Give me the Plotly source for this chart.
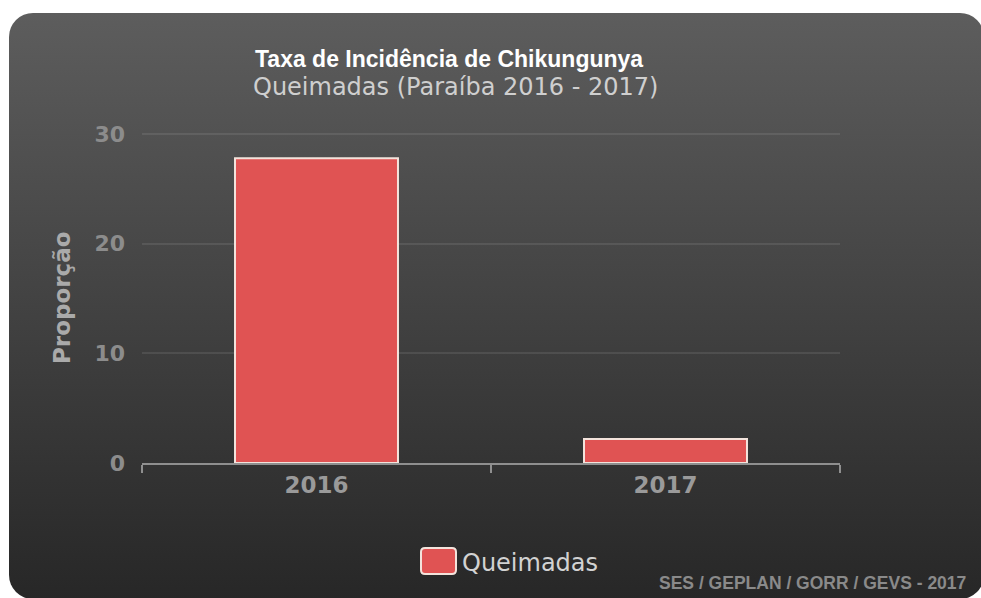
import base64
import plotly.graph_objects as go

# ---- data ----
categories = ["2016", "2017"]
values = [27.8, 2.2]
series_name = "Queimadas"
y_ticks = [0, 10, 20, 30]

title_text = "Taxa de Incidência de Chikungunya"
subtitle_text = "Queimadas (Paraíba 2016 - 2017)"
yaxis_title = "Proporção"
credit_text = "SES / GEPLAN / GORR / GEVS - 2017"

# ---- layout geometry (pixels) ----
W, H = 981, 598
L, R, T, B = 142, W - 840, 133, H - 463
PW, PH = W - L - R, H - T - B


def px(x):
    return (x - L) / PW


def py(y):
    return (H - B - y) / PH


# background: rounded rect with vertical gradient (SVG data uri)
svg = f"""<svg xmlns='http://www.w3.org/2000/svg' width='{W}' height='{H}' viewBox='0 0 {W} {H}'>
<defs><linearGradient id='g' x1='0' y1='0' x2='0' y2='1'>
<stop offset='0' stop-color='#5d5d5d'/><stop offset='1' stop-color='#272727'/></linearGradient></defs>
<rect x='0' y='0' width='{W}' height='{H}' fill='#ffffff'/>
<rect x='9' y='13' width='{W + 3 - 9}' height='{H + 1 - 13}' rx='24' ry='24' fill='url(#g)'/>
</svg>"""
bg_uri = "data:image/svg+xml;base64," + base64.b64encode(svg.encode()).decode()

fig = go.Figure()
fig.add_trace(go.Bar(
    x=categories, y=values, name=series_name, width=0.467,
    marker=dict(color="#e05353", line=dict(color="#f3e3dc", width=2)),
    showlegend=False,
))

fig.add_layout_image(dict(
    source=bg_uri, xref="paper", yref="paper",
    x=px(0), y=py(0), sizex=W / PW, sizey=H / PH,
    xanchor="left", yanchor="top", sizing="stretch", layer="below",
))

annotations = [
    dict(text=f"<b>{title_text}</b>", x=px(449), y=py(59), xref="paper", yref="paper",
         showarrow=False, xanchor="center", yanchor="middle",
         font=dict(family="Liberation Sans, Arial", size=23, color="#ffffff")),
    dict(text=subtitle_text, x=px(455), y=py(87), xref="paper", yref="paper",
         showarrow=False, xanchor="center", yanchor="middle",
         font=dict(family="DejaVu Sans", size=24, color="#cfcfcf")),
    dict(text=f"<b>{yaxis_title}</b>", x=px(62), y=py(298), xref="paper", yref="paper",
         showarrow=False, xanchor="center", yanchor="middle", textangle=-90,
         font=dict(family="DejaVu Sans", size=23, color="#aaaaaa")),
    dict(text=series_name, x=px(460), y=py(563), xref="paper", yref="paper",
         showarrow=False, xanchor="left", yanchor="middle",
         font=dict(family="DejaVu Sans", size=24, color="#d2d2d2")),
    dict(text=f"<b>{credit_text}</b>", x=px(968), y=py(583), xref="paper", yref="paper",
         showarrow=False, xanchor="right", yanchor="middle",
         font=dict(family="Liberation Sans, Arial", size=17.5, color="#8a8a8a")),
]

# legend swatch (rounded rect)
x0, x1, y0, y1, r = px(421), px(456), py(548), py(574), 4
rx, ry = r / PW, r / PH
path = (f"M {x0+rx},{y0} L {x1-rx},{y0} Q {x1},{y0} {x1},{y0-ry} "
        f"L {x1},{y1+ry} Q {x1},{y1} {x1-rx},{y1} L {x0+rx},{y1} Q {x0},{y1} {x0},{y1+ry} "
        f"L {x0},{y0-ry} Q {x0},{y0} {x0+rx},{y0} Z")
shapes = [dict(type="path", path=path, xref="paper", yref="paper",
               fillcolor="#e05353", line=dict(color="#f3e3dc", width=2))]

fig.update_layout(
    width=W, height=H,
    margin=dict(l=L, r=R, t=T, b=B, pad=0),
    paper_bgcolor="#ffffff", plot_bgcolor="rgba(0,0,0,0)",
    annotations=annotations, shapes=shapes,
    xaxis=dict(
        type="category", showgrid=False, showline=True, linecolor="#8f8f8f", linewidth=2,
        ticks="outside", tickson="boundaries", ticklen=8, tickcolor="#8f8f8f", tickwidth=2,
        tickfont=dict(family="DejaVu Sans", size=23, color="#9a9a9a", weight="bold"),
        zeroline=False,
    ),
    yaxis=dict(
        range=[0, 30.1], tickvals=y_ticks, showgrid=True, gridcolor="rgba(255,255,255,0.09)",
        gridwidth=2, zeroline=False, showline=False, ticks="", ticklabelstandoff=16,
        tickfont=dict(family="DejaVu Sans", size=22, color="#8c8c8c", weight="bold"),
    ),
)

fig.write_html("out.html", config={"displayModeBar": False},
               post_script="document.body.style.margin='0px';")
